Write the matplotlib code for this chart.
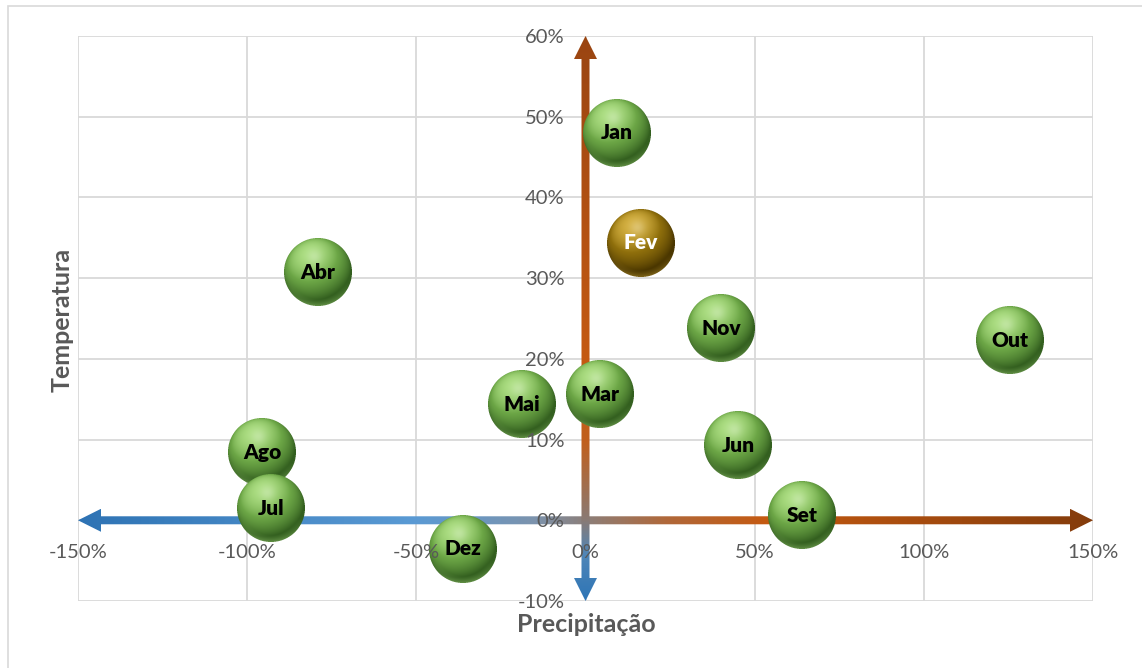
import numpy as np
import matplotlib
matplotlib.use("Agg")
import matplotlib.pyplot as plt
from matplotlib.offsetbox import OffsetImage, AnnotationBbox
from matplotlib.colors import LinearSegmentedColormap, to_rgb
from matplotlib.patches import Polygon, Rectangle
from matplotlib.ticker import PercentFormatter, FixedLocator

# ---- data -------------------------------------------------------------
meses = ["Jan", "Fev", "Mar", "Abr", "Mai", "Jun",
         "Jul", "Ago", "Set", "Out", "Nov", "Dez"]
precipitacao = [0.093, 0.164, 0.043, -0.791, -0.188, 0.451,
                -0.930, -0.956, 0.640, 1.255, 0.400, -0.362]
temperatura = [0.480, 0.344, 0.156, 0.307, 0.144, 0.093,
               0.015, 0.084, 0.006, 0.223, 0.238, -0.035]
destaque = "Fev"

x_ticks = [-1.5, -1.0, -0.5, 0.0, 0.5, 1.0, 1.5]
y_ticks = [-0.1, 0.0, 0.1, 0.2, 0.3, 0.4, 0.5, 0.6]

# ---- style --------------------------------------------------------------
plt.rcParams["font.family"] = ["Lato", "DejaVu Sans"]
plt.rcParams["axes.unicode_minus"] = False
TXT = "#595959"
GRID = "#d9d9d9"

W, H = 1142, 668
fig = plt.figure(figsize=(W / 100, H / 100), dpi=100)
fig.patch.set_facecolor("white")

# outer chart frame
fig.patches.append(Rectangle((8 / W, -0.01), 1.2, 1 - 6 / H + 0.01,
                             transform=fig.transFigure, fill=False,
                             edgecolor=GRID, lw=1.2))

ax = fig.add_axes([78 / W, 1 - 601 / H, (1093 - 78) / W, (601 - 36) / H])
ax.set_xlim(x_ticks[0], x_ticks[-1])
ax.set_ylim(y_ticks[0], y_ticks[-1])
ax.set_facecolor("white")

# gridlines
for xv in x_ticks:
    ax.axvline(xv, color=GRID, lw=1.3, zorder=0)
for yv in y_ticks:
    ax.axhline(yv, color=GRID, lw=1.3, zorder=0)

# axes cross at zero; labels follow the hidden spines
for s in ("top", "right"):
    ax.spines[s].set_visible(False)
ax.spines["left"].set_position(("data", 0))
ax.spines["bottom"].set_position(("data", 0))
ax.spines["left"].set_color("none")
ax.spines["bottom"].set_color("none")
ax.xaxis.set_major_locator(FixedLocator(x_ticks))
ax.yaxis.set_major_locator(FixedLocator(y_ticks))
ax.xaxis.set_major_formatter(PercentFormatter(1.0, decimals=0))
ax.yaxis.set_major_formatter(PercentFormatter(1.0, decimals=0))
ax.tick_params(axis="both", length=0, labelsize=14.5, colors=TXT)
ax.tick_params(axis="x", pad=17)
ax.tick_params(axis="y", pad=15)
ax.xaxis.set_zorder(8)
ax.yaxis.set_zorder(8)

# ---- gradient arrows ----------------------------------------------------
sx = ax.bbox.width / (x_ticks[-1] - x_ticks[0])    # px per unit, x
sy = ax.bbox.height / (y_ticks[-1] - y_ticks[0])   # px per unit, y
shaft, head_w, head_l = 4.0, 11.5, 23.0

x0, x1 = x_ticks[0], x_ticks[-1]
hs, hh, hl = shaft / sy, head_w / sy, head_l / sx
h_verts = [(x0, 0), (x0 + hl, hh), (x0 + hl, hs), (x1 - hl, hs), (x1 - hl, hh),
           (x1, 0), (x1 - hl, -hh), (x1 - hl, -hs), (x0 + hl, -hs), (x0 + hl, -hh)]
h_cmap = LinearSegmentedColormap.from_list("h", [
    (0.00, "#2e73b4"), (0.33, "#5a9ad4"), (0.45, "#7c93ad"), (0.50, "#8c7f7a"),
    (0.58, "#b0683a"), (0.68, "#c55a11"), (1.00, "#843c0c")])
h_poly = Polygon(h_verts, closed=True, transform=ax.transData)
im = ax.imshow(np.linspace(0, 1, 512)[np.newaxis, :], extent=[x0, x1, -hh, hh],
               cmap=h_cmap, aspect="auto", origin="lower", zorder=2,
               interpolation="bilinear")
im.set_clip_path(h_poly)

y0, y1 = y_ticks[0], y_ticks[-1]
vs, vh, vl = shaft / sx, head_w / sx, head_l / sy
v_verts = [(0, y0), (vh, y0 + vl), (vs, y0 + vl), (vs, y1 - vl), (vh, y1 - vl),
           (0, y1), (-vh, y1 - vl), (-vs, y1 - vl), (-vs, y0 + vl), (-vh, y0 + vl)]
v_cmap = LinearSegmentedColormap.from_list("v", [
    (0.00, "#2e75b6"), (0.08, "#4f86b8"), (0.143, "#8a7a74"), (0.28, "#c0601e"),
    (0.42, "#c55a11"), (1.00, "#9a4512")])
v_poly = Polygon(v_verts, closed=True, transform=ax.transData)
im2 = ax.imshow(np.linspace(0, 1, 512)[:, np.newaxis], extent=[-vh, vh, y0, y1],
                cmap=v_cmap, aspect="auto", origin="lower", zorder=2.1,
                interpolation="bilinear")
im2.set_clip_path(v_poly)
ax.set_xlim(x0, x1)
ax.set_ylim(y0, y1)


# ---- shaded spheres -----------------------------------------------------
def sphere(dark, base, light, d=68, ss=4):
    n = d * ss
    c = (n - 1) / 2
    yy, xx = np.mgrid[0:n, 0:n]
    u = (xx - c) / (n / 2)
    v = (c - yy) / (n / 2)
    r2 = u ** 2 + v ** 2
    inside = r2 <= 1.0
    z = np.sqrt(np.clip(1 - r2, 0, 1))
    L = np.array([-0.25, 0.55, 0.80])
    L = L / np.linalg.norm(L)
    diff = np.clip(u * L[0] + v * L[1] + z * L[2], 0, 1)
    dark, base, light = (np.array(to_rgb(k)) for k in (dark, base, light))
    t = diff[..., None]
    col = np.where(t < 0.65,
                   dark + (base - dark) * (t / 0.65),
                   base + (light - base) * ((t - 0.65) / 0.35))
    spec = np.exp(-((u + 0.1) ** 2 + (v - 0.45) ** 2) / 0.05)[..., None]
    col = col + (1 - col) * 0.25 * spec
    rim = (np.clip((np.sqrt(r2) - 0.80) / 0.20, 0, 1) * np.clip(-v - 0.3, 0, 1))[..., None]
    col = col + (light - col) * 0.55 * rim
    rgba = np.dstack([np.clip(col, 0, 1), inside.astype(float)])
    rgba[..., :3] *= rgba[..., 3:4]
    rgba = rgba.reshape(d, ss, d, ss, 4).mean(axis=(1, 3))
    a = rgba[..., 3:4]
    rgba[..., :3] = np.where(a > 0, rgba[..., :3] / np.maximum(a, 1e-6), 0)
    return rgba


green = sphere("#335f1f", "#6ca646", "#acde82")
gold = sphere("#4a3600", "#8f6f0c", "#d4b040")

order = np.argsort(temperatura)[::-1]
for k, i in enumerate(order):
    name = meses[i]
    img = gold if name == destaque else green
    ab = AnnotationBbox(OffsetImage(img, zoom=1, dpi_cor=False),
                        (precipitacao[i], temperatura[i]), frameon=False,
                        pad=0, zorder=4 + k * 0.01)
    ax.add_artist(ab)
    ax.text(precipitacao[i], temperatura[i], name, ha="center", va="center",
            fontsize=15, fontweight="heavy",
            color="white" if name == destaque else "black",
            zorder=4 + k * 0.01 + 0.005)

# ---- axis titles --------------------------------------------------------
fig.text(62 / W, 1 - 320 / H, "Temperatura", rotation=90, ha="center",
         va="center", fontsize=18, fontweight="bold", color=TXT)
fig.text(586 / W, 1 - 624 / H, "Precipitação", ha="center", va="center",
         fontsize=18, fontweight="bold", color=TXT)

fig.savefig("out.png", dpi=100)
